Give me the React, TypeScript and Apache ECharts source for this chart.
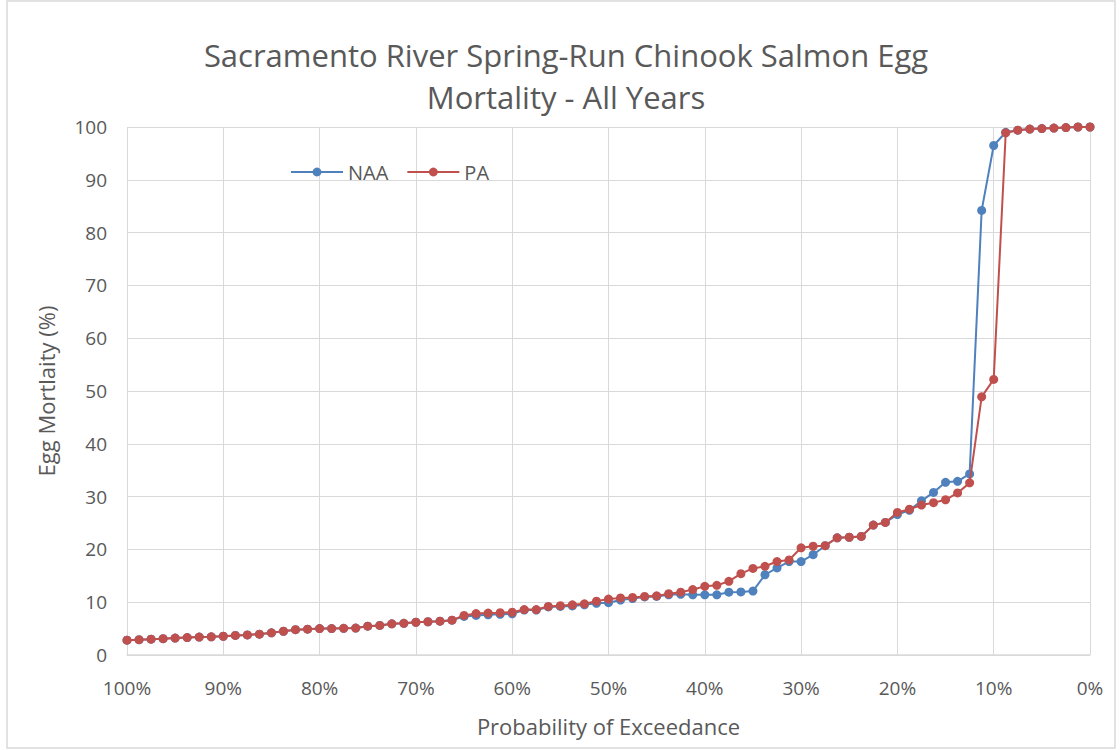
import React, { useEffect, useRef } from "react";
import * as echarts from "echarts";

const titleLines = ["Sacramento River Spring-Run Chinook Salmon Egg", "Mortality - All Years"];
const xAxisTitle = "Probability of Exceedance";
const yAxisTitle = "Egg Mortlaity (%)";
const seriesNames = ["NAA", "PA"];

// Probability of exceedance (%) for each ranked year
const exceedance = [
  100, 98.75, 97.5, 96.25, 95, 93.75, 92.5, 91.25, 90, 88.75,
  87.5, 86.25, 85, 83.75, 82.5, 81.25, 80, 78.75, 77.5, 76.25,
  75, 73.75, 72.5, 71.25, 70, 68.75, 67.5, 66.25, 65, 63.75,
  62.5, 61.25, 60, 58.75, 57.5, 56.25, 55, 53.75, 52.5, 51.25,
  50, 48.75, 47.5, 46.25, 45, 43.75, 42.5, 41.25, 40, 38.75,
  37.5, 36.25, 35, 33.75, 32.5, 31.25, 30, 28.75, 27.5, 26.25,
  25, 23.75, 22.5, 21.25, 20, 18.75, 17.5, 16.25, 15, 13.75,
  12.5, 11.25, 10, 8.75, 7.5, 6.25, 5, 3.75, 2.5, 1.25,
  0,
];

const naa = [
  2.8, 2.9, 3.0, 3.1, 3.2, 3.3, 3.4, 3.45, 3.55, 3.7,
  3.8, 3.95, 4.2, 4.5, 4.8, 4.9, 5.0, 5.0, 5.05, 5.1,
  5.45, 5.6, 5.9, 6.0, 6.2, 6.3, 6.4, 6.6, 7.3, 7.5,
  7.6, 7.7, 7.8, 8.5, 8.5, 9.1, 9.2, 9.3, 9.5, 9.8,
  9.9, 10.4, 10.7, 11.0, 11.1, 11.4, 11.5, 11.4, 11.4, 11.4,
  11.9, 11.95, 12.1, 15.2, 16.5, 17.7, 17.7, 19.0, 20.7, 22.2,
  22.3, 22.45, 24.6, 25.1, 26.6, 27.4, 29.2, 30.8, 32.7, 32.9,
  34.3, 84.2, 96.5, 99.0, 99.4, 99.6, 99.7, 99.8, 99.9, 100,
  100,
];

const pa = [
  2.8, 2.9, 3.0, 3.1, 3.2, 3.3, 3.4, 3.45, 3.55, 3.7,
  3.8, 3.95, 4.2, 4.5, 4.8, 4.9, 5.0, 5.0, 5.05, 5.1,
  5.45, 5.6, 5.9, 6.0, 6.2, 6.3, 6.4, 6.6, 7.5, 7.85,
  7.95, 8.0, 8.1, 8.6, 8.6, 9.2, 9.35, 9.5, 9.7, 10.2,
  10.6, 10.8, 10.9, 11.1, 11.2, 11.6, 11.9, 12.4, 13.0, 13.2,
  13.95, 15.4, 16.4, 16.8, 17.7, 18.0, 20.3, 20.6, 20.7, 22.2,
  22.3, 22.45, 24.6, 25.1, 27.0, 27.6, 28.4, 28.85, 29.4, 30.7,
  32.6, 48.9, 52.2, 98.9, 99.4, 99.6, 99.7, 99.8, 99.9, 100,
  100,
];

const colors = ["#4F81BD", "#C0504D"];
const textColor = "#595959";
const gridColor = "#D9D9D9";
const font = "'Open Sans', 'Noto Sans', sans-serif";

export default function App() {
  const ref = useRef<HTMLDivElement>(null);

  useEffect(() => {
    if (!ref.current) return;
    const chart = echarts.init(ref.current, undefined, { renderer: "svg" });
    const pairs = (ys: number[]) => ys.map((y, i) => [exceedance[i], y]);
    chart.setOption({
      animation: false,
      backgroundColor: "#ffffff",
      title: {
        text: titleLines.join("\n"),
        left: 566,
        top: 34,
        padding: 0,
        textAlign: "center",
        textStyle: {
          color: textColor,
          fontFamily: font,
          fontSize: 31,
          fontWeight: "normal",
          lineHeight: 42,
        },
      },
      legend: {
        left: 290,
        top: 162,
        padding: 0,
        itemWidth: 52,
        itemHeight: 11,
        itemGap: 18,
        textStyle: { color: textColor, fontFamily: font, fontSize: 20 },
        data: seriesNames,
      },
      grid: { left: 127, right: 30, top: 127, bottom: 95, containLabel: false },
      xAxis: {
        type: "value",
        inverse: true,
        min: 0,
        max: 100,
        interval: 10,
        name: xAxisTitle,
        nameLocation: "middle",
        nameGap: 60,
        nameTextStyle: { color: textColor, fontFamily: font, fontSize: 22 },
        axisLine: { show: true, lineStyle: { color: gridColor, width: 1.5 } },
        axisTick: { show: false },
        axisLabel: {
          color: textColor,
          fontFamily: font,
          fontSize: 19,
          margin: 23,
          formatter: (v: number) => `${v}%`,
        },
        splitLine: { show: true, lineStyle: { color: gridColor, width: 1 } },
      },
      yAxis: {
        type: "value",
        min: 0,
        max: 100,
        interval: 10,
        name: yAxisTitle,
        nameLocation: "middle",
        nameGap: 70,
        nameTextStyle: { color: textColor, fontFamily: font, fontSize: 22 },
        axisLine: { show: false },
        axisTick: { show: false },
        axisLabel: { color: textColor, fontFamily: font, fontSize: 19, margin: 20 },
        splitLine: { show: true, lineStyle: { color: gridColor, width: 1 } },
      },
      series: [
        {
          name: seriesNames[0],
          type: "line",
          data: pairs(naa),
          symbol: "circle",
          symbolSize: 9,
          showAllSymbol: true,
          itemStyle: { color: colors[0] },
          lineStyle: { color: colors[0], width: 2 },
          z: 2,
        },
        {
          name: seriesNames[1],
          type: "line",
          data: pairs(pa),
          symbol: "circle",
          symbolSize: 9,
          showAllSymbol: true,
          itemStyle: { color: colors[1] },
          lineStyle: { color: colors[1], width: 2 },
          z: 3,
        },
      ],
      graphic: [
        {
          type: "rect",
          shape: { x: 7, y: 1, width: 1108, height: 747 },
          style: { fill: "none", stroke: gridColor, lineWidth: 1.5 },
          silent: true,
        },
      ],
    });
    return () => chart.dispose();
  }, []);

  return (
    <div
      ref={ref}
      style={{ position: "fixed", left: 0, top: 0, width: 1120, height: 750 }}
    />
  );
}
